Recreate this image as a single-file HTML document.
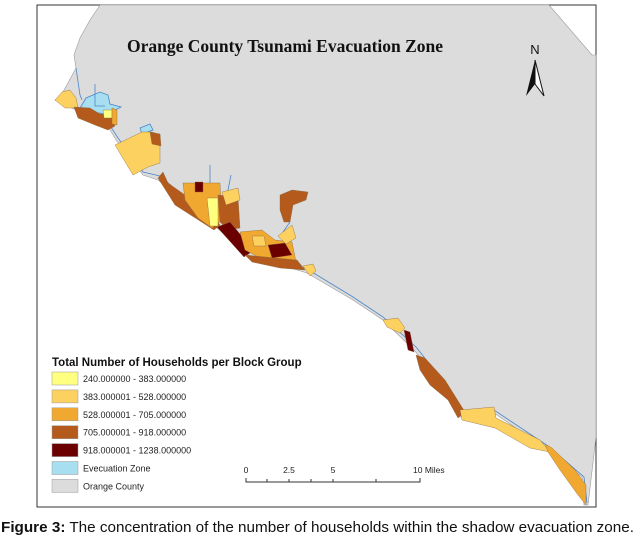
<!DOCTYPE html>
<html><head><meta charset="utf-8">
<style>
body{margin:0;background:#fff;width:637px;height:543px;overflow:hidden;font-family:"Liberation Sans",sans-serif}
</style></head>
<body>
<svg id="map" width="637" height="543" viewBox="0 0 637 543" xmlns="http://www.w3.org/2000/svg">
<rect x="37" y="5" width="559" height="502" fill="#fff" stroke="#333" stroke-width="1"/>
<polygon fill="#dcdcdc" stroke="#999" stroke-width="0.6"
 points="100,5 549,5 592,55 596,55 596,437 588,505 584,505 582,477 548,450 494,413 460,417 422,360 414,350 383,320 353,300 307,273 248,255 216,227 158,180 143,175 116,140 109,128 76,110 55,100 62,94 76,68 74,55 80,38 90,20"/>
<g fill="#a8dff0" stroke="#4a86c8" stroke-width="0.8">
 <polygon points="80,108 86,98 100,92 108,95 110,104 121,107 108,114 90,112"/>
 <polyline fill="none" points="55,100 76,106 109,124 118,138 143,172 160,176 216,224 250,251 307,269 353,297 383,317 416,347 424,357 462,413 494,410 548,446 584,477 587,503"/>
 <polyline fill="none" points="95,84 95,106 105,106"/>
 <polyline fill="none" points="76,68 80,95 82,100"/>
 <polyline fill="none" points="210,165 210,192"/>
 <polyline fill="none" points="231,175 226,200"/>
 <polyline fill="none" points="290,222 283,232 288,238"/>
 <polygon points="140,128 150,124 153,130 142,134"/>
</g>
<g stroke="#8a6a40" stroke-width="0.4">
 <polygon fill="#fdd160" points="55,100 62,92 70,90 76,98 78,108 65,108"/>
 <polygon fill="#b35a1c" points="74,107 90,108 100,114 110,114 115,126 108,130 95,125 78,118"/>
 <polygon fill="#ffff80" points="103,110 112,110 112,118 104,118"/>
 <polygon fill="#f0a830" points="112,108 117,110 117,125 112,124"/>
 <polygon fill="#fdd160" points="115,145 142,132 152,132 160,135 160,163 148,167 133,175"/>
 <polygon fill="#b35a1c" points="150,132 160,134 161,146 152,144"/>
 <polygon fill="#b35a1c" points="158,178 163,172 168,183 185,195 196,195 220,225 214,230 200,221 175,205"/>
 <polygon fill="#f0a830" points="183,183 220,183 222,220 212,228 198,218 185,200"/>
 <polygon fill="#ffff80" points="207,198 218,198 218,226 210,226"/>
 <polygon fill="#6b0000" points="195,182 203,182 203,192 195,192"/>
 <polygon fill="#b35a1c" points="218,195 238,197 240,228 228,230 220,222"/>
 <polygon fill="#fdd160" points="222,192 238,188 240,200 226,205"/>
 <polygon fill="#6b0000" points="217,227 230,222 245,240 250,253 244,257"/>
 <polygon fill="#f0a830" points="240,232 262,230 275,240 292,242 296,262 260,258 245,250"/>
 <polygon fill="#fdd160" points="252,236 264,236 266,246 254,246"/>
 <polygon fill="#6b0000" points="268,245 285,243 292,255 272,258"/>
 <polygon fill="#b35a1c" points="245,255 275,258 297,260 305,270 280,268 252,262"/>
 <polygon fill="#fdd160" points="278,236 292,225 296,238 286,244"/>
 <polygon fill="#b35a1c" points="280,195 292,190 308,192 306,200 293,205 290,222 284,222 280,210"/>
 <polygon fill="#fdd160" points="303,266 313,264 316,271 310,276"/>
 <polygon fill="#fdd160" points="383,320 398,318 405,328 400,333 387,327"/>
 <polygon fill="#6b0000" points="404,330 410,332 414,352 408,350"/>
 <polygon fill="#b35a1c" points="416,355 425,358 445,380 465,412 458,418 448,400 430,385 420,370"/>
 <polygon fill="#fdd160" points="460,410 494,407 496,418 540,440 550,452 530,448 495,428 462,420"/>
 <polygon fill="#f0a830" points="545,444 552,448 575,470 586,485 586,505 578,495 560,470 548,452"/>
</g>
<text x="127" y="52" font-family="Liberation Serif,serif" font-weight="bold" font-size="17.5" fill="#111">Orange County Tsunami Evacuation Zone</text>
<g>
 <text x="535" y="54" text-anchor="middle" font-size="13" fill="#111">N</text>
 <polygon points="535,60 526,96 535,84" fill="#111"/>
 <polygon points="535,60 544,96 535,84" fill="#fff" stroke="#111" stroke-width="1"/>
</g>
<g id="legend">
 <text x="52" y="366" font-weight="bold" font-size="11.5" fill="#111">Total Number of Households per Block Group</text>
</g>
<g font-size="8.5" fill="#222">
 <text x="246" y="473" text-anchor="middle">0</text>
 <text x="289" y="473" text-anchor="middle">2.5</text>
 <text x="333" y="473" text-anchor="middle">5</text>
 <text x="413" y="473">10 Miles</text>
 <polyline points="246,478 246,482 420,482 420,478" fill="none" stroke="#333" stroke-width="1"/>
 <g stroke="#333" stroke-width="1">
  <line x1="267" y1="479" x2="267" y2="482"/><line x1="289" y1="479" x2="289" y2="482"/>
  <line x1="311" y1="479" x2="311" y2="482"/><line x1="333" y1="479" x2="333" y2="482"/>
  <line x1="376" y1="479" x2="376" y2="482"/>
 </g>
</g>
<text x="1" y="532" font-size="15" fill="#111" textLength="633" lengthAdjust="spacingAndGlyphs"><tspan font-weight="bold">Figure 3:</tspan> The concentration of the number of households within the shadow evacuation zone.</text>
</svg>
<script>
const legendLabels=["240.000000 - 383.000000","383.000001 - 528.000000","528.000001 - 705.000000","705.000001 - 918.000000","918.000001 - 1238.000000","Evecuation Zone","Orange County"];
const legendColors=["#ffff80","#fdd160","#f0a830","#b35a1c","#6b0000","#a8dff0","#dcdcdc"];
const g=document.getElementById('legend');
const NS="http://www.w3.org/2000/svg";
legendLabels.forEach((lab,i)=>{
  const y=372+i*17.9;
  const r=document.createElementNS(NS,'rect');
  
  
  r.setAttribute('x',52);r.setAttribute('y',y);r.setAttribute('width',26);r.setAttribute('height',13);
  r.setAttribute('fill',legendColors[i]);r.setAttribute('stroke','#999');r.setAttribute('stroke-width','0.5');
  g.appendChild(r);
  const t=document.createElementNS(NS,'text');
  
  
  t.setAttribute('x',83);t.setAttribute('y',y+10);t.setAttribute('font-size','9');t.setAttribute('fill','#222');
  t.textContent=lab;
  g.appendChild(t);
});
</script>
</body></html>
